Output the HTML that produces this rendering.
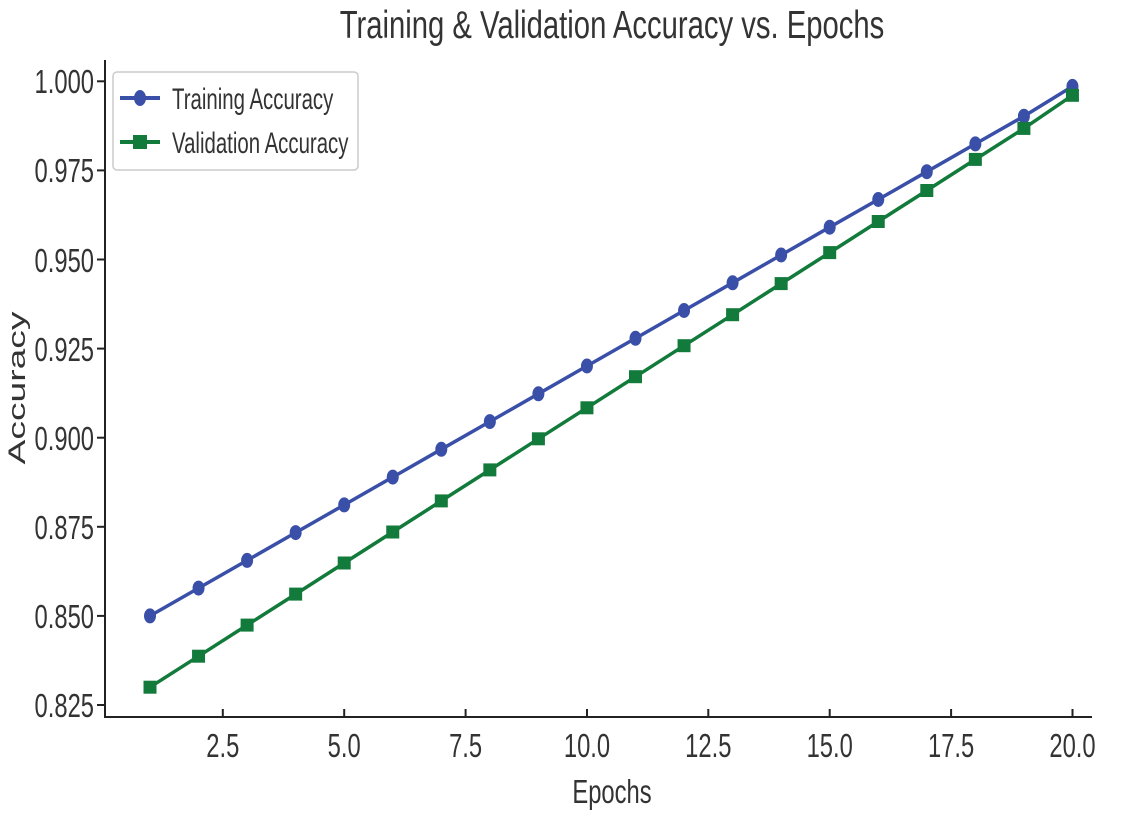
<!DOCTYPE html>
<html><head><style>body{margin:0;background:#fff}svg{display:block}</style></head><body>
<svg width="1128" height="818" xmlns="http://www.w3.org/2000/svg" font-family="Liberation Sans, DejaVu Sans, sans-serif" fill="#333">
<defs>
<marker id="mc" markerUnits="userSpaceOnUse" markerWidth="16" markerHeight="18" refX="8" refY="9" overflow="visible"><ellipse cx="8" cy="9" rx="6" ry="7.5" fill="#3a4fa8"/></marker>
<marker id="ms" markerUnits="userSpaceOnUse" markerWidth="16" markerHeight="16" refX="8" refY="8" overflow="visible"><rect x="1.5" y="1.5" width="13" height="13" fill="#127a3a"/></marker>
</defs>
<text transform="translate(612,38) scale(0.75,1)" font-size="39" text-anchor="middle">Training &amp; Validation Accuracy vs. Epochs</text>
<text transform="translate(612,803) scale(0.72,1)" font-size="33" text-anchor="middle">Epochs</text>
<text transform="translate(25,388) rotate(-90) scale(1.55,1)" font-size="24" text-anchor="middle">Accuracy</text>
<line x1="105" y1="60" x2="105" y2="718" stroke="#222" stroke-width="2"/>
<line x1="104" y1="717" x2="1092" y2="717" stroke="#222" stroke-width="2"/>
<g stroke="#222" stroke-width="2">
<line x1="97" y1="705" x2="105" y2="705"/><line x1="97" y1="615.9" x2="105" y2="615.9"/><line x1="97" y1="526.8" x2="105" y2="526.8"/><line x1="97" y1="437.7" x2="105" y2="437.7"/><line x1="97" y1="348.6" x2="105" y2="348.6"/><line x1="97" y1="259.5" x2="105" y2="259.5"/><line x1="97" y1="170.4" x2="105" y2="170.4"/><line x1="97" y1="81.3" x2="105" y2="81.3"/>
<line x1="222.8" y1="717" x2="222.8" y2="709"/><line x1="344.2" y1="717" x2="344.2" y2="709"/><line x1="465.6" y1="717" x2="465.6" y2="709"/><line x1="587" y1="717" x2="587" y2="709"/><line x1="708.3" y1="717" x2="708.3" y2="709"/><line x1="829.7" y1="717" x2="829.7" y2="709"/><line x1="951.1" y1="717" x2="951.1" y2="709"/><line x1="1072.5" y1="717" x2="1072.5" y2="709"/>
</g>
<g font-size="33" text-anchor="end">
<text transform="translate(94,717) scale(0.72,1)">0.825</text>
<text transform="translate(94,628) scale(0.72,1)">0.850</text>
<text transform="translate(94,539) scale(0.72,1)">0.875</text>
<text transform="translate(94,450) scale(0.72,1)">0.900</text>
<text transform="translate(94,361) scale(0.72,1)">0.925</text>
<text transform="translate(94,272) scale(0.72,1)">0.950</text>
<text transform="translate(94,182) scale(0.72,1)">0.975</text>
<text transform="translate(94,93) scale(0.72,1)">1.000</text>
</g>
<g font-size="33" text-anchor="middle">
<text transform="translate(222.8,757) scale(0.72,1)">2.5</text>
<text transform="translate(344.2,757) scale(0.72,1)">5.0</text>
<text transform="translate(465.6,757) scale(0.72,1)">7.5</text>
<text transform="translate(587,757) scale(0.72,1)">10.0</text>
<text transform="translate(708.3,757) scale(0.72,1)">12.5</text>
<text transform="translate(829.7,757) scale(0.72,1)">15.0</text>
<text transform="translate(951.1,757) scale(0.72,1)">17.5</text>
<text transform="translate(1072.5,757) scale(0.72,1)">20.0</text>
</g>
<polyline fill="none" stroke="#3a4fa8" stroke-width="3.5" marker-start="url(#mc)" marker-mid="url(#mc)" marker-end="url(#mc)" points="150,615.9 198.55,588.1 247.1,560.4 295.65,532.6 344.2,504.9 392.75,477.1 441.3,449.3 489.85,421.6 538.4,393.8 586.95,366 635.5,338.3 684.05,310.5 732.6,282.8 781.15,255 829.7,227.2 878.25,199.5 926.8,171.7 975.35,143.9 1023.9,116.2 1072.45,86.4"/>
<polyline fill="none" stroke="#127a3a" stroke-width="3.5" marker-start="url(#ms)" marker-mid="url(#ms)" marker-end="url(#ms)" points="150,687.2 198.55,656.2 247.1,625.1 295.65,594.1 344.2,563 392.75,532 441.3,500.9 489.85,469.9 538.4,438.8 586.95,407.8 635.5,376.7 684.05,345.7 732.6,314.7 781.15,283.6 829.7,252.6 878.25,221.5 926.8,190.5 975.35,159.4 1023.9,128.4 1072.45,95.3"/>
<rect x="113" y="72" width="245" height="98" rx="4" fill="#fff" stroke="#ccc" stroke-width="1.5"/>
<line x1="120" y1="98" x2="160" y2="98" stroke="#3a4fa8" stroke-width="4"/>
<ellipse cx="140" cy="98" rx="6" ry="8" fill="#3a4fa8"/>
<line x1="120" y1="142" x2="160" y2="142" stroke="#127a3a" stroke-width="4"/>
<rect x="133" y="135" width="14" height="14" fill="#127a3a"/>
<text transform="translate(172,109) scale(0.68,1)" font-size="30">Training Accuracy</text>
<text transform="translate(172,153) scale(0.68,1)" font-size="30">Validation Accuracy</text>
</svg>
</body></html>
